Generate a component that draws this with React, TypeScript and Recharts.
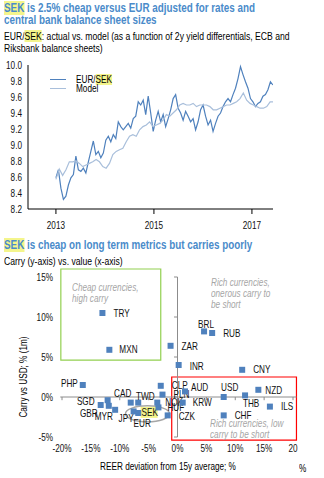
import React from 'react';
import {
  LineChart, Line, XAxis, YAxis, ScatterChart, Scatter,
  ReferenceArea, ReferenceLine, ReferenceDot,
} from 'recharts';

const FONT = '"Liberation Sans", Arial, sans-serif';
const SQUEEZE = 0.82; // the original uses a narrow Arial
const BLUE = '#4f81bd';
const LIGHT = '#a9bfdb';
const TITLE = '#4a8bca';
const NOTE = '#a6a6a6';
const AXIS = '#8c8c8c';

// EUR/SEK spot, one reading roughly every 2.6 weeks from Jan 2013
const spotStart = 2013.0;
const spotStep = 0.0509;
const eurSek = [
  8.59, 8.69, 8.46, 8.32, 8.36, 8.5, 8.59, 8.63, 8.86, 8.69, 8.67, 8.71, 8.65, 8.79, 8.92,
  9.05, 8.88, 8.92, 8.84, 8.9, 9.06, 9.11, 9.04, 9.13, 9.08, 9.29, 9.23, 9.19, 9.23, 9.27,
  9.21, 9.33, 9.36, 9.54, 9.5, 9.56, 9.38, 9.61, 9.4, 9.17, 9.31, 9.42, 9.29, 9.38, 9.23,
  9.33, 9.44, 9.58, 9.63, 9.46, 9.4, 9.31, 9.42, 9.36, 9.29, 9.33, 9.19, 9.29, 9.44, 9.5,
  9.36, 9.25, 9.31, 9.17, 9.27, 9.36, 9.4, 9.48, 9.54, 9.58, 9.54, 9.63, 9.71, 9.83, 9.98,
  9.88, 9.79, 9.71, 9.58, 9.54, 9.48, 9.52, 9.54, 9.61, 9.63, 9.69, 9.79, 9.75,
];

// model fair value, roughly every 3.5 weeks
const modelStart = 2013.0;
const modelStep = 0.0683;
const model = [
  8.57, 8.7, 8.62, 8.69, 8.79, 8.79, 8.8, 8.77, 8.73, 8.75, 8.77, 8.79, 8.82, 8.79, 8.73,
  8.71, 8.77, 8.88, 8.92, 8.94, 8.96, 9.04, 9.11, 9.13, 9.11, 9.19, 9.23, 9.25, 9.29, 9.23,
  9.25, 9.27, 9.31, 9.38, 9.36, 9.4, 9.44, 9.5, 9.52, 9.5, 9.5, 9.52, 9.48, 9.5, 9.5,
  9.5, 9.48, 9.44, 9.44, 9.46, 9.48, 9.5, 9.5, 9.52, 9.54, 9.58, 9.65, 9.56, 9.52, 9.5,
  9.48, 9.46, 9.46, 9.48, 9.54, 9.54,
];

const yearTicks = [2013, 2015, 2017];
const rateTicks = [8.2, 8.4, 8.6, 8.8, 9.0, 9.2, 9.4, 9.6, 9.8, 10.0];

const currencies = [
  'TRY', 'MXN', 'BRL', 'RUB', 'ZAR', 'INR', 'CNY', 'PHP', 'SGD', 'GBR', 'MYR', 'JPY', 'CAD', 'TWD',
  'SEK', 'EUR', 'NOK', 'CLP', 'PLN', 'HUF', 'CZK', 'AUD', 'KRW', 'USD', 'THB', 'NZD', 'ILS', 'CHF',
];
// REER deviation from 15y average, %
const reerDev = [
  -13.0, -11.8, 4.6, 6.0, -1.2, 0.2, 11.2, -16.4, -12.1, -13.3, -11.9, -10.8, -8.1, -6.8,
  -7.6, -6.8, -3.5, -2.9, -2.6, -3.3, -1.7, 1.3, 0.9, 8.0, 11.7, 14.0, 16.0, 8.0,
];
// 1m carry vs USD, %
const carry = [
  10.5, 5.9, 8.2, 8.0, 6.4, 4.0, 3.4, 1.5, -0.4, -1.0, -1.1, -1.6, -0.7, -0.7,
  -1.8, -2.0, -0.7, 1.4, 0.3, -1.3, -2.3, 0.7, -0.7, 0.0, 0.2, 0.9, -1.2, -2.3,
];
const valueTicks = [-20, -15, -10, -5, 0, 5, 10, 15, 20];
const carryTicks = [-5, 0, 5, 10, 15];

// label placement next to each marker: anchor, dx, dy (px)
const labelPlace: Record<string, [string, number, number]> = {
  TRY: ['start', 11, 0], MXN: ['start', 10, 0], BRL: ['middle', 2, -7], RUB: ['start', 11, 0],
  ZAR: ['start', 11, 1], INR: ['start', 11, 1], CNY: ['start', 11, 0], PHP: ['end', -5, -2],
  SGD: ['end', -13, 1], GBR: ['end', -3, 8], MYR: ['middle', -5, 11], JPY: ['middle', 11, 9],
  CAD: ['middle', -8, -9], TWD: ['middle', 7, -6], SEK: ['start', 8, 1], EUR: ['middle', 4, 10],
  NOK: ['start', 8, 0], CLP: ['start', 11, 0], PLN: ['start', 11, 0], HUF: ['start', 9, 0],
  CZK: ['start', 11, 1], AUD: ['start', 6, -4], KRW: ['start', 10, 0], USD: ['middle', 6, -10],
  THB: ['middle', 6, 8], NZD: ['start', 7, 1], ILS: ['start', 11, 0], CHF: ['start', 11, 0],
};

const Hi = ({ children }: { children: React.ReactNode }) => (
  <span style={{ background: '#f4f58c' }}>{children}</span>
);

const Txt = ({ x, y, size = 10, style, children }: any) => (
  <div
    style={{
      position: 'absolute', left: x, top: y, fontSize: size, lineHeight: `${size + 1}px`,
      whiteSpace: 'nowrap', fontFamily: FONT, transform: `scaleX(${SQUEEZE})`,
      transformOrigin: 'left center', ...style,
    }}
  >
    {children}
  </div>
);

// svg text squeezed horizontally around its anchor
const NText = ({ x, y, anchor, dy, size = 10, fill = '#111', children }: any) => (
  <text
    transform={`translate(${x},${y}) scale(${SQUEEZE},1)`} textAnchor={anchor} dy={dy}
    fontSize={size} fontFamily={FONT} fill={fill}
  >
    {children}
  </text>
);

const makeTick = (fmt: (v: number) => string, anchor: string, dy: string) => (p: any) => (
  <NText x={p.x} y={p.y} anchor={anchor} dy={dy}>{fmt(p.payload.value)}</NText>
);

const renderPoint = (props: any) => {
  const { cx, cy, payload } = props;
  const [anchor, dx, dy] = labelPlace[payload.name] || ['start', 8, 0];
  const tx = cx + dx;
  const ty = cy + dy;
  return (
    <g>
      <rect x={cx - 3} y={cy - 3} width={6} height={6} fill={BLUE} />
      {payload.name === 'SEK' && (
        <rect x={tx - 1} y={ty - 5.5} width={17} height={11} fill="#f4f58c" />
      )}
      <NText x={tx} y={ty} anchor={anchor} dy="0.35em">{payload.name}</NText>
    </g>
  );
};

export default function App() {
  const spotData = eurSek.map((v, i) => ({ t: spotStart + i * spotStep, v }));
  const modelData = model.map((v, i) => ({ t: modelStart + i * modelStep, v }));
  const points = currencies.map((name, i) => ({ name, x: reerDev[i], y: carry[i] }));

  return (
    <div style={{ position: 'absolute', left: 0, top: 0, width: 324, height: 478, background: '#fff', fontFamily: FONT }}>
      <Txt x={4} y={1.5} size={12} style={{ fontWeight: 'bold', color: TITLE }}>
        <Hi>SEK</Hi> is 2.5% cheap versus EUR adjusted for rates and
      </Txt>
      <Txt x={4} y={14} size={12} style={{ fontWeight: 'bold', color: TITLE }}>
        central bank balance sheet sizes
      </Txt>
      <Txt x={4} y={31} size={10.5}>
        EUR/<Hi>SEK</Hi>: actual vs. model (as a function of 2y yield differentials, ECB and
      </Txt>
      <Txt x={4} y={42.5} size={10.5}>Riksbank balance sheets)</Txt>

      <div style={{ position: 'absolute', left: 0, top: 0 }}>
        <LineChart width={324} height={235} margin={{ top: 65, right: 51, bottom: 6, left: 0 }}>
          <XAxis
            type="number" dataKey="t" domain={[2012.43, 2017.43]} ticks={yearTicks}
            allowDataOverflow height={20} tickSize={5} tickMargin={8} interval={0}
            stroke="#000" tick={makeTick((v) => String(v), 'middle', '0.71em')}
          />
          <YAxis
            type="number" domain={[8.2, 10]} ticks={rateTicks} width={28} interval={0}
            tickLine={false} tickSize={0} tickMargin={6} stroke="#000"
            tick={makeTick((v) => v.toFixed(1), 'end', '0.35em')}
          />
          <Line
            data={spotData} dataKey="v" stroke={BLUE} strokeWidth={1.2} dot={false}
            isAnimationActive={false}
          />
          <Line
            data={modelData} dataKey="v" stroke={LIGHT} strokeWidth={1.2} dot={false}
            isAnimationActive={false}
          />
        </LineChart>
      </div>

      {/* legend */}
      <div style={{ position: 'absolute', left: 50, top: 79, width: 16, height: 1.3, background: BLUE }} />
      <div style={{ position: 'absolute', left: 50, top: 87.5, width: 16, height: 1.3, background: LIGHT }} />
      <Txt x={76} y={74} size={10}>EUR/<Hi>SEK</Hi></Txt>
      <Txt x={76} y={82.5} size={10}>Model</Txt>

      <Txt x={4} y={238.5} size={12} style={{ fontWeight: 'bold', color: TITLE }}>
        <Hi>SEK</Hi> is cheap on long term metrics but carries poorly
      </Txt>
      <Txt x={4} y={255.5} size={10.5}>Carry (y-axis) vs. value (x-axis)</Txt>

      <div style={{ position: 'absolute', left: 0, top: 235 }}>
        <ScatterChart width={324} height={243} margin={{ top: 42, right: 31, bottom: 11, left: 0 }}>
          <XAxis
            type="number" dataKey="x" domain={[-20, 20]} ticks={valueTicks}
            axisLine={false} tickLine={false} tickSize={0} tickMargin={8} height={30} interval={0}
            tick={makeTick((v) => (v === 20 ? '20' : `${v}%`), 'middle', '0.71em')}
          />
          <YAxis
            type="number" dataKey="y" domain={[-5, 15]} ticks={carryTicks} interval={0}
            axisLine={false} tickLine={false} tickSize={0} tickMargin={9} width={62}
            tick={makeTick((v) => `${v}%`, 'end', '0.35em')}
          />
          <ReferenceArea
            x1={-20.2} x2={-2.9} y1={4.6} y2={16} ifOverflow="visible"
            fill="none" stroke="#92d050" strokeWidth={1.2}
          />
          <ReferenceArea
            x1={-1} x2={20.6} y1={-5.4} y2={2.5} ifOverflow="visible"
            fill="none" stroke="#ff0000" strokeWidth={1.2}
          />
          <ReferenceLine
            segment={[{ x: 0, y: -5 }, { x: 0, y: 15 }]} stroke={AXIS} ifOverflow="visible"
          />
          <ReferenceLine
            segment={[{ x: -20.3, y: 0 }, { x: 20.6, y: 0 }]} stroke={AXIS} ifOverflow="visible"
          />
          {carryTicks.map((t) => (
            <ReferenceLine
              key={`yt${t}`} segment={[{ x: -0.6, y: t }, { x: 0, y: t }]}
              stroke={AXIS} ifOverflow="visible"
            />
          ))}
          {valueTicks.map((t) => (
            <ReferenceLine
              key={`xt${t}`} segment={[{ x: t, y: 0 }, { x: t, y: -0.4 }]}
              stroke={AXIS} ifOverflow="visible"
            />
          ))}
          <ReferenceDot
            x={-5.2} y={-2.1} ifOverflow="visible"
            shape={(p: any) => (
              <ellipse cx={p.cx} cy={p.cy} rx={22} ry={8} fill="none" stroke="#a6a6a6" strokeWidth={1.5} />
            )}
          />
          <Scatter data={points} shape={renderPoint} isAnimationActive={false} />
        </ScatterChart>
      </div>

      <Txt x={72} y={281.5} size={10} style={{ fontStyle: 'italic', color: NOTE }}>Cheap currencies,</Txt>
      <Txt x={72} y={292.5} size={10} style={{ fontStyle: 'italic', color: NOTE }}>high carry</Txt>
      <Txt x={211} y={276.5} size={10} style={{ fontStyle: 'italic', color: NOTE }}>Rich currencies,</Txt>
      <Txt x={211} y={287.5} size={10} style={{ fontStyle: 'italic', color: NOTE }}>onerous carry to</Txt>
      <Txt x={211} y={298.5} size={10} style={{ fontStyle: 'italic', color: NOTE }}>be short</Txt>
      <Txt x={210} y={417.5} size={10} style={{ fontStyle: 'italic', color: NOTE }}>Rich currencies, low</Txt>
      <Txt x={210} y={428.5} size={10} style={{ fontStyle: 'italic', color: NOTE }}>carry to be short</Txt>

      <div
        style={{
          position: 'absolute', left: 23, top: 377, fontSize: 10, fontFamily: FONT,
          whiteSpace: 'nowrap',
          transform: `translate(-50%, -50%) rotate(-90deg) scaleX(${SQUEEZE})`,
        }}
      >
        Carry vs USD; % (1m)
      </div>
      <div
        style={{
          position: 'absolute', left: 168, top: 466, fontSize: 10, fontFamily: FONT,
          whiteSpace: 'nowrap', transform: `translate(-50%, -50%) scaleX(${SQUEEZE})`,
        }}
      >
        REER deviation from 15y average; %
      </div>
      <Txt x={299} y={462.5} size={10}>%</Txt>
    </div>
  );
}
